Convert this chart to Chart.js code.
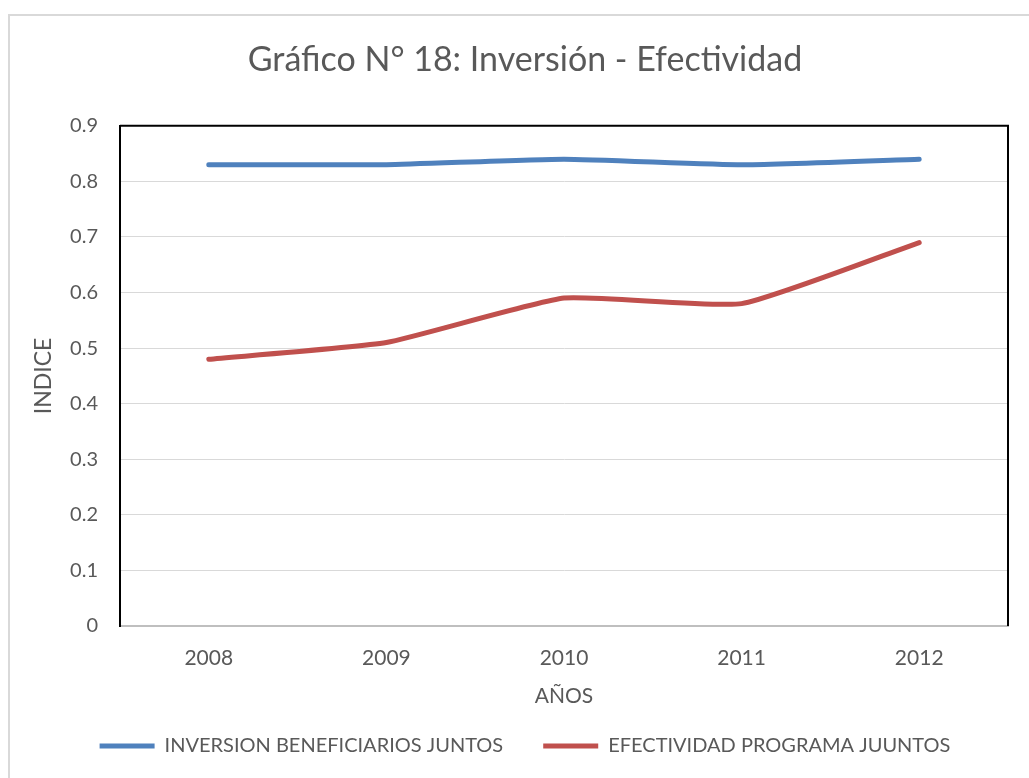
<!DOCTYPE html>
<html>
<head>
<meta charset="utf-8">
<script src="https://cdn.jsdelivr.net/npm/chart.js@4/dist/chart.umd.min.js"></script>
<style>
    html, body { margin: 0; padding: 0; background: #ffffff; }
    #frame {
        position: absolute; left: 8px; top: 14px;
        width: 1100px; height: 900px;
        border: 2px solid #d9d9d9;
    }
    #wrap { position: absolute; left: 0; top: 0; width: 1029px; height: 778px; }
</style>
</head>
<body>
<div id="frame"></div>
<div id="wrap"><canvas id="lineChart"></canvas></div>
<script>
// --- Veri ---
const years = ['2008', '2009', '2010', '2011', '2012'];
const inversion = [0.83, 0.83, 0.84, 0.83, 0.84];
const efectividad = [0.48, 0.51, 0.59, 0.58, 0.69];
const yTicks = [0, 0.1, 0.2, 0.3, 0.4, 0.5, 0.6, 0.7, 0.8, 0.9];

const textColor = '#595959';
const fontFamily = 'Lato, "Open Sans", sans-serif';

// plot area frame: black top / right (left comes from the y axis border)
const plotFrame = {
    id: 'plotFrame',
    beforeLayout(chart) {
        // legend height fixed so that the plot keeps its size
        const lg = chart.legend;
        if (lg && !lg._fixedFit) {
            const fit = lg.fit;
            lg.fit = function () { fit.call(this); this.height = 82; };
            lg._fixedFit = true;
        }
    },
    beforeDatasetsDraw(chart) {
        const { ctx, chartArea: a } = chart;
        ctx.save();
        ctx.strokeStyle = '#000000';
        ctx.lineWidth = 2;
        ctx.beginPath();
        ctx.moveTo(a.left, a.top);
        ctx.lineTo(a.right, a.top);
        ctx.lineTo(a.right, a.bottom);
        ctx.stroke();
        ctx.restore();
    }
};

const lineCtx = document.getElementById('lineChart');
new Chart(lineCtx, {
    type: 'line',
    data: {
        labels: years,
        datasets: [
            { label: 'INVERSION BENEFICIARIOS JUNTOS', data: inversion, borderColor: '#4f81bd', backgroundColor: '#4f81bd', borderWidth: 5, borderCapStyle: 'round', pointRadius: 0, tension: 0.15 },
            { label: 'EFECTIVIDAD PROGRAMA JUUNTOS', data: efectividad, borderColor: '#c0504d', backgroundColor: '#c0504d', borderWidth: 5, borderCapStyle: 'round', pointRadius: 0, tension: 0.15 }
        ]
    },
    options: {
        responsive: true,
        maintainAspectRatio: false,
        animation: false,
        layout: { padding: { left: 42, right: 21, top: 0, bottom: 0 } },
        scales: {
            x: {
                offset: true,
                grid: { display: false, offset: true },
                border: { color: '#bfbfbf', width: 2 },
                ticks: { color: textColor, font: { family: fontFamily, size: 21 }, padding: 12 },
                title: { display: true, text: 'AÑOS', color: textColor, font: { family: fontFamily, size: 21 }, padding: { top: 0, bottom: -13 } },
                afterFit(scale) { scale.height = 70; }
            },
            y: {
                min: 0,
                max: 0.9,
                afterBuildTicks(scale) { scale.ticks = yTicks.map(v => ({ value: v })); },
                grid: { color: '#d9d9d9', lineWidth: 1, drawTicks: false },
                border: { color: '#000000', width: 2 },
                ticks: {
                    color: textColor, font: { family: fontFamily, size: 20 }, padding: 22,
                    callback: v => String(Number(v.toFixed(1)))
                },
                title: { display: true, text: 'INDICE', color: textColor, font: { family: fontFamily, size: 23 }, padding: { top: -12, bottom: 0 } },
                afterFit(scale) { scale.width = 78; }
            }
        },
        plugins: {
            title: {
                display: true,
                text: 'Gráfico N° 18: Inversión - Efectividad',
                color: textColor,
                font: { family: fontFamily, size: 34, weight: 'normal' },
                padding: { top: 40, bottom: 45 }
            },
            legend: {
                position: 'bottom',
                labels: {
                    color: textColor,
                    font: { family: fontFamily, size: 20 },
                    usePointStyle: true,
                    pointStyle: 'line',
                    pointStyleWidth: 55,
                    padding: 40
                }
            },
            tooltip: { enabled: false }
        }
    },
    plugins: [plotFrame]
});
</script>
</body>
</html>
